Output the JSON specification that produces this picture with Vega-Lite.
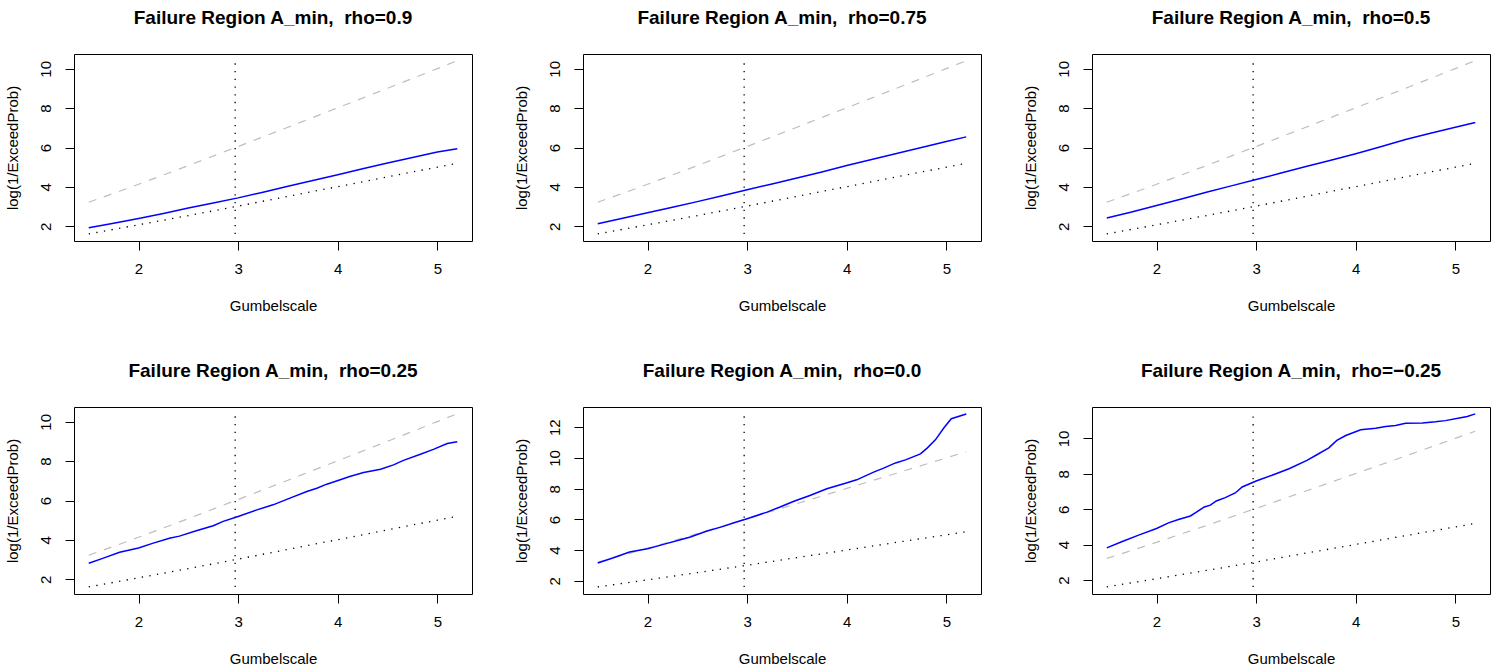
{
  "$schema": "https://vega.github.io/schema/vega-lite/v6.json",
  "autosize": {"type": "pad"},
  "padding": {"left": 4, "top": 8, "right": 5, "bottom": 5},
  "background": "white",
  "datasets": {
    "ref": [
      {"x": 1.5, "y": 1.61, "s": "lo"}, {"x": 1.75, "y": 1.84, "s": "lo"}, {"x": 2, "y": 2.07, "s": "lo"}, {"x": 2.5, "y": 2.54, "s": "lo"}, {"x": 3, "y": 3.02, "s": "lo"}, {"x": 3.5, "y": 3.52, "s": "lo"}, {"x": 4, "y": 4.01, "s": "lo"}, {"x": 4.5, "y": 4.51, "s": "lo"}, {"x": 5, "y": 5.0, "s": "lo"}, {"x": 5.2, "y": 5.2, "s": "lo"},
      {"x": 1.5, "y": 3.22, "s": "hi"}, {"x": 1.75, "y": 3.67, "s": "hi"}, {"x": 2, "y": 4.13, "s": "hi"}, {"x": 2.5, "y": 5.08, "s": "hi"}, {"x": 3, "y": 6.05, "s": "hi"}, {"x": 3.5, "y": 7.03, "s": "hi"}, {"x": 4, "y": 8.02, "s": "hi"}, {"x": 4.5, "y": 9.01, "s": "hi"}, {"x": 5, "y": 10.01, "s": "hi"}, {"x": 5.2, "y": 10.41, "s": "hi"}
    ],
    "vlines": [
      {"panel": "0.9", "x": 2.97, "y": 1.6, "y2": 10.45},
      {"panel": "0.75", "x": 2.97, "y": 1.6, "y2": 10.45},
      {"panel": "0.5", "x": 2.97, "y": 1.6, "y2": 10.45},
      {"panel": "0.25", "x": 2.97, "y": 1.6, "y2": 10.45},
      {"panel": "0.0", "x": 2.97, "y": 1.6, "y2": 12.95},
      {"panel": "-0.25", "x": 2.97, "y": 1.6, "y2": 11.5}
    ],
    "curves": [
      {"panel": "0.9", "x": 1.5, "y": 1.92}, {"panel": "0.9", "x": 1.75, "y": 2.15}, {"panel": "0.9", "x": 2, "y": 2.39}, {"panel": "0.9", "x": 2.25, "y": 2.65}, {"panel": "0.9", "x": 2.5, "y": 2.92}, {"panel": "0.9", "x": 2.75, "y": 3.18}, {"panel": "0.9", "x": 3, "y": 3.44}, {"panel": "0.9", "x": 3.25, "y": 3.73}, {"panel": "0.9", "x": 3.5, "y": 4.03}, {"panel": "0.9", "x": 3.75, "y": 4.32}, {"panel": "0.9", "x": 4, "y": 4.62}, {"panel": "0.9", "x": 4.25, "y": 4.92}, {"panel": "0.9", "x": 4.5, "y": 5.21}, {"panel": "0.9", "x": 4.75, "y": 5.49}, {"panel": "0.9", "x": 5, "y": 5.77}, {"panel": "0.9", "x": 5.2, "y": 5.94},

      {"panel": "0.75", "x": 1.5, "y": 2.12}, {"panel": "0.75", "x": 1.75, "y": 2.4}, {"panel": "0.75", "x": 2, "y": 2.68}, {"panel": "0.75", "x": 2.25, "y": 2.96}, {"panel": "0.75", "x": 2.5, "y": 3.25}, {"panel": "0.75", "x": 2.75, "y": 3.55}, {"panel": "0.75", "x": 3, "y": 3.85}, {"panel": "0.75", "x": 3.25, "y": 4.15}, {"panel": "0.75", "x": 3.5, "y": 4.45}, {"panel": "0.75", "x": 3.75, "y": 4.76}, {"panel": "0.75", "x": 4, "y": 5.08}, {"panel": "0.75", "x": 4.25, "y": 5.39}, {"panel": "0.75", "x": 4.5, "y": 5.7}, {"panel": "0.75", "x": 4.75, "y": 6.0}, {"panel": "0.75", "x": 5, "y": 6.3}, {"panel": "0.75", "x": 5.2, "y": 6.54},

      {"panel": "0.5", "x": 1.5, "y": 2.42}, {"panel": "0.5", "x": 1.75, "y": 2.72}, {"panel": "0.5", "x": 2, "y": 3.05}, {"panel": "0.5", "x": 2.25, "y": 3.38}, {"panel": "0.5", "x": 2.5, "y": 3.73}, {"panel": "0.5", "x": 2.75, "y": 4.05}, {"panel": "0.5", "x": 3, "y": 4.37}, {"panel": "0.5", "x": 3.25, "y": 4.7}, {"panel": "0.5", "x": 3.5, "y": 5.03}, {"panel": "0.5", "x": 3.75, "y": 5.35}, {"panel": "0.5", "x": 4, "y": 5.68}, {"panel": "0.5", "x": 4.25, "y": 6.04}, {"panel": "0.5", "x": 4.5, "y": 6.41}, {"panel": "0.5", "x": 4.75, "y": 6.72}, {"panel": "0.5", "x": 5, "y": 7.03}, {"panel": "0.5", "x": 5.2, "y": 7.27},

      {"panel": "0.25", "x": 1.5, "y": 2.81}, {"panel": "0.25", "x": 1.64, "y": 3.06}, {"panel": "0.25", "x": 1.81, "y": 3.37}, {"panel": "0.25", "x": 2, "y": 3.59}, {"panel": "0.25", "x": 2.14, "y": 3.82}, {"panel": "0.25", "x": 2.31, "y": 4.08}, {"panel": "0.25", "x": 2.41, "y": 4.19}, {"panel": "0.25", "x": 2.58, "y": 4.46}, {"panel": "0.25", "x": 2.75, "y": 4.72}, {"panel": "0.25", "x": 2.85, "y": 4.94}, {"panel": "0.25", "x": 3, "y": 5.19}, {"panel": "0.25", "x": 3.18, "y": 5.51}, {"panel": "0.25", "x": 3.35, "y": 5.78}, {"panel": "0.25", "x": 3.52, "y": 6.12}, {"panel": "0.25", "x": 3.69, "y": 6.46}, {"panel": "0.25", "x": 3.79, "y": 6.62}, {"panel": "0.25", "x": 3.89, "y": 6.83}, {"panel": "0.25", "x": 4.01, "y": 7.03}, {"panel": "0.25", "x": 4.12, "y": 7.22}, {"panel": "0.25", "x": 4.26, "y": 7.42}, {"panel": "0.25", "x": 4.43, "y": 7.59}, {"panel": "0.25", "x": 4.56, "y": 7.81}, {"panel": "0.25", "x": 4.66, "y": 8.04}, {"panel": "0.25", "x": 4.83, "y": 8.35}, {"panel": "0.25", "x": 4.96, "y": 8.6}, {"panel": "0.25", "x": 5.1, "y": 8.9}, {"panel": "0.25", "x": 5.2, "y": 8.99},

      {"panel": "0.0", "x": 1.5, "y": 3.17}, {"panel": "0.0", "x": 1.65, "y": 3.49}, {"panel": "0.0", "x": 1.82, "y": 3.88}, {"panel": "0.0", "x": 2, "y": 4.1}, {"panel": "0.0", "x": 2.16, "y": 4.38}, {"panel": "0.0", "x": 2.33, "y": 4.68}, {"panel": "0.0", "x": 2.43, "y": 4.86}, {"panel": "0.0", "x": 2.59, "y": 5.23}, {"panel": "0.0", "x": 2.76, "y": 5.55}, {"panel": "0.0", "x": 2.86, "y": 5.77}, {"panel": "0.0", "x": 3, "y": 6.05}, {"panel": "0.0", "x": 3.2, "y": 6.48}, {"panel": "0.0", "x": 3.33, "y": 6.81}, {"panel": "0.0", "x": 3.47, "y": 7.19}, {"panel": "0.0", "x": 3.63, "y": 7.56}, {"panel": "0.0", "x": 3.8, "y": 8.0}, {"panel": "0.0", "x": 3.97, "y": 8.32}, {"panel": "0.0", "x": 4.1, "y": 8.58}, {"panel": "0.0", "x": 4.27, "y": 9.08}, {"panel": "0.0", "x": 4.37, "y": 9.34}, {"panel": "0.0", "x": 4.49, "y": 9.68}, {"panel": "0.0", "x": 4.59, "y": 9.88}, {"panel": "0.0", "x": 4.74, "y": 10.27}, {"panel": "0.0", "x": 4.81, "y": 10.66}, {"panel": "0.0", "x": 4.89, "y": 11.18}, {"panel": "0.0", "x": 4.98, "y": 12.0}, {"panel": "0.0", "x": 5.05, "y": 12.56}, {"panel": "0.0", "x": 5.2, "y": 12.87},

      {"panel": "-0.25", "x": 1.5, "y": 3.82}, {"panel": "-0.25", "x": 1.65, "y": 4.16}, {"panel": "-0.25", "x": 1.82, "y": 4.54}, {"panel": "-0.25", "x": 2, "y": 4.91}, {"panel": "-0.25", "x": 2.12, "y": 5.23}, {"panel": "-0.25", "x": 2.22, "y": 5.42}, {"panel": "-0.25", "x": 2.34, "y": 5.62}, {"panel": "-0.25", "x": 2.42, "y": 5.91}, {"panel": "-0.25", "x": 2.48, "y": 6.13}, {"panel": "-0.25", "x": 2.54, "y": 6.23}, {"panel": "-0.25", "x": 2.6, "y": 6.47}, {"panel": "-0.25", "x": 2.69, "y": 6.66}, {"panel": "-0.25", "x": 2.79, "y": 6.92}, {"panel": "-0.25", "x": 2.86, "y": 7.26}, {"panel": "-0.25", "x": 3, "y": 7.6}, {"panel": "-0.25", "x": 3.16, "y": 7.92}, {"panel": "-0.25", "x": 3.33, "y": 8.29}, {"panel": "-0.25", "x": 3.51, "y": 8.76}, {"panel": "-0.25", "x": 3.61, "y": 9.08}, {"panel": "-0.25", "x": 3.73, "y": 9.47}, {"panel": "-0.25", "x": 3.81, "y": 9.89}, {"panel": "-0.25", "x": 3.9, "y": 10.17}, {"panel": "-0.25", "x": 4.05, "y": 10.49}, {"panel": "-0.25", "x": 4.2, "y": 10.58}, {"panel": "-0.25", "x": 4.3, "y": 10.68}, {"panel": "-0.25", "x": 4.4, "y": 10.73}, {"panel": "-0.25", "x": 4.5, "y": 10.86}, {"panel": "-0.25", "x": 4.67, "y": 10.88}, {"panel": "-0.25", "x": 4.8, "y": 10.94}, {"panel": "-0.25", "x": 4.9, "y": 11.01}, {"panel": "-0.25", "x": 5.04, "y": 11.16}, {"panel": "-0.25", "x": 5.12, "y": 11.24}, {"panel": "-0.25", "x": 5.2, "y": 11.39}
    ]
  },
  "columns": 3,
  "spacing": {"row": 166, "column": 111},
  "bounds": "flush",
  "concat": [
    {
      "title": "Failure Region A_min, \u00a0rho=0.9",
      "width": 398, "height": 187,
      "encoding": {
        "x": {"field": "x", "type": "quantitative", "title": "Gumbelscale", "scale": {"domain": [1.352, 5.348], "nice": false, "zero": false}, "axis": {"values": [2, 3, 4, 5]}},
        "y": {"field": "y", "type": "quantitative", "title": "log(1/ExceedProb)", "scale": {"domain": [1.248, 10.752], "nice": false, "zero": false}, "axis": {"values": [2, 4, 6, 8, 10]}}
      },
      "layer": [
        {"data": {"name": "ref"}, "transform": [{"filter": {"field": "s", "equal": "hi"}}], "mark": {"type": "line", "color": "#bebebe", "strokeWidth": 1.2, "strokeDash": [8, 8]}},
        {"data": {"name": "ref"}, "transform": [{"filter": {"field": "s", "equal": "lo"}}], "mark": {"type": "line", "color": "black", "strokeWidth": 1.3, "strokeDash": [1.3, 6.4]}},
        {"data": {"name": "vlines"}, "transform": [{"filter": {"field": "panel", "equal": "0.9"}}], "mark": {"type": "rule", "color": "black", "strokeWidth": 1.3, "strokeDash": [1.3, 6.4]}, "encoding": {"y2": {"field": "y2"}}},
        {"data": {"name": "curves"}, "transform": [{"filter": {"field": "panel", "equal": "0.9"}}], "mark": {"type": "line", "color": "blue", "strokeWidth": 1.5}}
      ]
    },
    {
      "title": "Failure Region A_min, \u00a0rho=0.75",
      "width": 398, "height": 187,
      "encoding": {
        "x": {"field": "x", "type": "quantitative", "title": "Gumbelscale", "scale": {"domain": [1.352, 5.348], "nice": false, "zero": false}, "axis": {"values": [2, 3, 4, 5]}},
        "y": {"field": "y", "type": "quantitative", "title": "log(1/ExceedProb)", "scale": {"domain": [1.248, 10.752], "nice": false, "zero": false}, "axis": {"values": [2, 4, 6, 8, 10]}}
      },
      "layer": [
        {"data": {"name": "ref"}, "transform": [{"filter": {"field": "s", "equal": "hi"}}], "mark": {"type": "line", "color": "#bebebe", "strokeWidth": 1.2, "strokeDash": [8, 8]}},
        {"data": {"name": "ref"}, "transform": [{"filter": {"field": "s", "equal": "lo"}}], "mark": {"type": "line", "color": "black", "strokeWidth": 1.3, "strokeDash": [1.3, 6.4]}},
        {"data": {"name": "vlines"}, "transform": [{"filter": {"field": "panel", "equal": "0.75"}}], "mark": {"type": "rule", "color": "black", "strokeWidth": 1.3, "strokeDash": [1.3, 6.4]}, "encoding": {"y2": {"field": "y2"}}},
        {"data": {"name": "curves"}, "transform": [{"filter": {"field": "panel", "equal": "0.75"}}], "mark": {"type": "line", "color": "blue", "strokeWidth": 1.5}}
      ]
    },
    {
      "title": "Failure Region A_min, \u00a0rho=0.5",
      "width": 398, "height": 187,
      "encoding": {
        "x": {"field": "x", "type": "quantitative", "title": "Gumbelscale", "scale": {"domain": [1.352, 5.348], "nice": false, "zero": false}, "axis": {"values": [2, 3, 4, 5]}},
        "y": {"field": "y", "type": "quantitative", "title": "log(1/ExceedProb)", "scale": {"domain": [1.248, 10.752], "nice": false, "zero": false}, "axis": {"values": [2, 4, 6, 8, 10]}}
      },
      "layer": [
        {"data": {"name": "ref"}, "transform": [{"filter": {"field": "s", "equal": "hi"}}], "mark": {"type": "line", "color": "#bebebe", "strokeWidth": 1.2, "strokeDash": [8, 8]}},
        {"data": {"name": "ref"}, "transform": [{"filter": {"field": "s", "equal": "lo"}}], "mark": {"type": "line", "color": "black", "strokeWidth": 1.3, "strokeDash": [1.3, 6.4]}},
        {"data": {"name": "vlines"}, "transform": [{"filter": {"field": "panel", "equal": "0.5"}}], "mark": {"type": "rule", "color": "black", "strokeWidth": 1.3, "strokeDash": [1.3, 6.4]}, "encoding": {"y2": {"field": "y2"}}},
        {"data": {"name": "curves"}, "transform": [{"filter": {"field": "panel", "equal": "0.5"}}], "mark": {"type": "line", "color": "blue", "strokeWidth": 1.5}}
      ]
    },
    {
      "title": "Failure Region A_min, \u00a0rho=0.25",
      "width": 398, "height": 187,
      "encoding": {
        "x": {"field": "x", "type": "quantitative", "title": "Gumbelscale", "scale": {"domain": [1.352, 5.348], "nice": false, "zero": false}, "axis": {"values": [2, 3, 4, 5]}},
        "y": {"field": "y", "type": "quantitative", "title": "log(1/ExceedProb)", "scale": {"domain": [1.248, 10.752], "nice": false, "zero": false}, "axis": {"values": [2, 4, 6, 8, 10]}}
      },
      "layer": [
        {"data": {"name": "ref"}, "transform": [{"filter": {"field": "s", "equal": "hi"}}], "mark": {"type": "line", "color": "#bebebe", "strokeWidth": 1.2, "strokeDash": [8, 8]}},
        {"data": {"name": "ref"}, "transform": [{"filter": {"field": "s", "equal": "lo"}}], "mark": {"type": "line", "color": "black", "strokeWidth": 1.3, "strokeDash": [1.3, 6.4]}},
        {"data": {"name": "vlines"}, "transform": [{"filter": {"field": "panel", "equal": "0.25"}}], "mark": {"type": "rule", "color": "black", "strokeWidth": 1.3, "strokeDash": [1.3, 6.4]}, "encoding": {"y2": {"field": "y2"}}},
        {"data": {"name": "curves"}, "transform": [{"filter": {"field": "panel", "equal": "0.25"}}], "mark": {"type": "line", "color": "blue", "strokeWidth": 1.5}}
      ]
    },
    {
      "title": "Failure Region A_min, \u00a0rho=0.0",
      "width": 398, "height": 187,
      "encoding": {
        "x": {"field": "x", "type": "quantitative", "title": "Gumbelscale", "scale": {"domain": [1.352, 5.348], "nice": false, "zero": false}, "axis": {"values": [2, 3, 4, 5]}},
        "y": {"field": "y", "type": "quantitative", "title": "log(1/ExceedProb)", "scale": {"domain": [1.149, 13.32], "nice": false, "zero": false}, "axis": {"values": [2, 4, 6, 8, 10, 12]}}
      },
      "layer": [
        {"data": {"name": "ref"}, "transform": [{"filter": {"field": "s", "equal": "hi"}}], "mark": {"type": "line", "color": "#bebebe", "strokeWidth": 1.2, "strokeDash": [8, 8]}},
        {"data": {"name": "ref"}, "transform": [{"filter": {"field": "s", "equal": "lo"}}], "mark": {"type": "line", "color": "black", "strokeWidth": 1.3, "strokeDash": [1.3, 6.4]}},
        {"data": {"name": "vlines"}, "transform": [{"filter": {"field": "panel", "equal": "0.0"}}], "mark": {"type": "rule", "color": "black", "strokeWidth": 1.3, "strokeDash": [1.3, 6.4]}, "encoding": {"y2": {"field": "y2"}}},
        {"data": {"name": "curves"}, "transform": [{"filter": {"field": "panel", "equal": "0.0"}}], "mark": {"type": "line", "color": "blue", "strokeWidth": 1.5}}
      ]
    },
    {
      "title": "Failure Region A_min, \u00a0rho=\u22120.25",
      "width": 398, "height": 187,
      "encoding": {
        "x": {"field": "x", "type": "quantitative", "title": "Gumbelscale", "scale": {"domain": [1.352, 5.348], "nice": false, "zero": false}, "axis": {"values": [2, 3, 4, 5]}},
        "y": {"field": "y", "type": "quantitative", "title": "log(1/ExceedProb)", "scale": {"domain": [1.21, 11.78], "nice": false, "zero": false}, "axis": {"values": [2, 4, 6, 8, 10]}}
      },
      "layer": [
        {"data": {"name": "ref"}, "transform": [{"filter": {"field": "s", "equal": "hi"}}], "mark": {"type": "line", "color": "#bebebe", "strokeWidth": 1.2, "strokeDash": [8, 8]}},
        {"data": {"name": "ref"}, "transform": [{"filter": {"field": "s", "equal": "lo"}}], "mark": {"type": "line", "color": "black", "strokeWidth": 1.3, "strokeDash": [1.3, 6.4]}},
        {"data": {"name": "vlines"}, "transform": [{"filter": {"field": "panel", "equal": "-0.25"}}], "mark": {"type": "rule", "color": "black", "strokeWidth": 1.3, "strokeDash": [1.3, 6.4]}, "encoding": {"y2": {"field": "y2"}}},
        {"data": {"name": "curves"}, "transform": [{"filter": {"field": "panel", "equal": "-0.25"}}], "mark": {"type": "line", "color": "blue", "strokeWidth": 1.5}}
      ]
    }
  ],
  "config": {
    "font": "Liberation Sans",
    "view": {"stroke": "black", "strokeWidth": 1},
    "axis": {
      "domain": false, "grid": false,
      "tickColor": "black", "tickSize": 9, "tickWidth": 1,
      "labelColor": "black", "labelFontSize": 15, "labelFont": "Liberation Sans", "labelFlush": false, "labelOverlap": false,
      "titleColor": "black", "titleFontSize": 15, "titleFont": "Liberation Sans", "titleFontWeight": "normal"
    },
    "axisX": {"labelPadding": 11, "titlePadding": 22},
    "axisY": {"labelAngle": -90, "labelAlign": "center", "labelBaseline": "bottom", "labelPadding": 12, "titlePadding": 18},
    "title": {"fontSize": 19, "fontWeight": "bold", "font": "Liberation Sans", "offset": 26, "color": "black", "anchor": "middle", "frame": "group"}
  }
}
